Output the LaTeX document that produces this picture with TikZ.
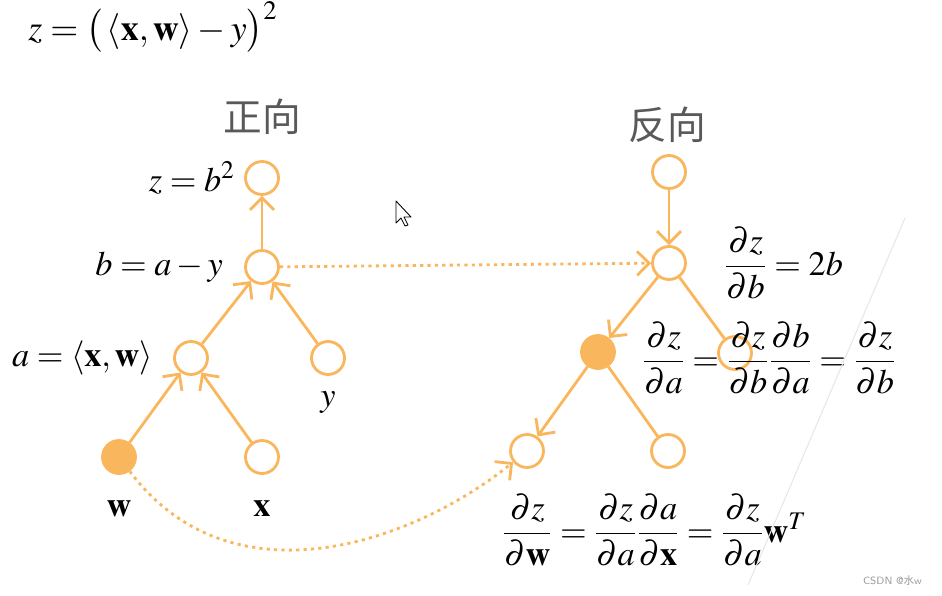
\documentclass[tikz,border=0pt]{standalone}
\usepackage{amsmath}
\usepackage{mathptmx}
\usepackage{fontspec}
\setmainfont{Liberation Serif}
\newfontfamily\cjk{Noto Sans CJK SC}
\usetikzlibrary{arrows.meta,positioning}
\definecolor{nodeOrange}{HTML}{F9B65C}
\definecolor{titleGrey}{HTML}{595959}
\definecolor{markGrey}{HTML}{999999}
\definecolor{lineGrey}{HTML}{E6E6E6}

\begin{document}
\begin{tikzpicture}[
      x=0.02cm, y=-0.02cm,
      vnode/.style={
        circle, draw=nodeOrange, line width=1.6pt, fill=white,
        minimum size=0.66cm, inner sep=0pt
      },
      vfilled/.style={vnode, fill=nodeOrange},
      mathlbl/.style={font=\fontsize{19.5}{23}\selectfont, inner sep=0pt},
      titlelbl/.style={font=\cjk\fontsize{22}{26}\selectfont, text=titleGrey, inner sep=0pt},
      fwdarr/.style={-{Straight Barb[length=2.4mm,width=4.8mm]}, draw=nodeOrange, line width=1.6pt},
      plainedge/.style={draw=nodeOrange, line width=1.6pt},
      dotarr/.style={fwdarr, dash pattern=on 1.8pt off 2.4pt}
    ]
      \useasboundingbox (0,0) rectangle (942,595);

      % top formula
      \node[mathlbl, font=\fontsize{20.5}{24}\selectfont, anchor=base west] (loss) at (28,40)
        {$z=\bigl(\,\langle\mathbf{x},\mathbf{w}\rangle-y\bigr)^2$};

      % forward graph
      \node[titlelbl] (fwdtitle) at (262,117) {正向};
      \node[vnode] (fz) at (262,178) {};
      \node[vnode] (fb) at (262,267) {};
      \node[vnode] (fa) at (191,358) {};
      \node[vnode] (fy) at (328,358) {};
      \node[vfilled] (fw) at (119,457) {};
      \node[vnode] (fx) at (262,457) {};

      \node[mathlbl, left=0.18cm of fz] (fzlbl) {$z=b^2$};
      \node[mathlbl, left=0.42cm of fb] (fblbl) {$b=a-y$};
      \node[mathlbl, left=0.4cm of fa] (falbl) {$a=\langle\mathbf{x},\mathbf{w}\rangle$};
      \node[mathlbl, below=0.3cm of fy] (fylbl) {$y$};
      \node[mathlbl, below=0.5cm of fw] (fwlbl) {$\mathbf{w}$};
      \node[mathlbl, below=0.5cm of fx] (fxlbl) {$\mathbf{x}$};

      \draw[fwdarr] (fb) -- (fz);
      \draw[fwdarr] (fa) -- (fb);
      \draw[fwdarr] (fy) -- (fb);
      \draw[fwdarr] (fw) -- (fa);
      \draw[fwdarr] (fx) -- (fa);

      % backward graph
      \node[titlelbl] (bwdtitle) at (667,125) {反向};
      \node[vnode] (bz) at (669,172) {};
      \node[vnode] (bb) at (669,263) {};
      \node[vfilled] (ba) at (598,352) {};
      \node[vnode] (by) at (735,353) {};
      \node[vnode] (bw) at (527,451) {};
      \node[vnode] (bx) at (668,451) {};

      \draw[fwdarr] (bz) -- (bb);
      \draw[fwdarr] (bb) -- (ba);
      \draw[plainedge] (bb) -- (by);
      \draw[fwdarr] (ba) -- (bw);
      \draw[plainedge] (ba) -- (bx);

      % links between the two graphs
      \draw[dotarr] (fb) -- (bb);
      \draw[dotarr] (fw) .. controls (230,605) and (410,545) .. (bw);

      % gradients
      \node[mathlbl, anchor=west] (gradb) at (724,263)
        {$\dfrac{\partial z}{\partial b}=2b$};
      \node[mathlbl, anchor=west] (grada) at (642,358)
        {$\dfrac{\partial z}{\partial a}=\dfrac{\partial z}{\partial b}\dfrac{\partial b}{\partial a}=\dfrac{\partial z}{\partial b}$};
      \node[mathlbl, anchor=west] (gradw) at (502,530)
        {$\dfrac{\partial z}{\partial\mathbf{w}}=\dfrac{\partial z}{\partial a}\dfrac{\partial a}{\partial\mathbf{x}}=\dfrac{\partial z}{\partial a}\mathbf{w}^T$};

      % screenshot leftovers
      \draw[lineGrey, line width=0.6pt] (905,218) -- (748,585);
      \draw[black, line width=0.5pt, fill=white, line join=round]
        (396,201) -- (396,223) -- (401,218) -- (405,226) -- (408,225) -- (404,217) -- (411,217) -- cycle;
      \node[font=\fontsize{6}{7}\selectfont\sffamily, text=markGrey, anchor=east] (mark) at (928,580)
        {CSDN @{\cjk 水}w};
    \end{tikzpicture}
\end{document}
